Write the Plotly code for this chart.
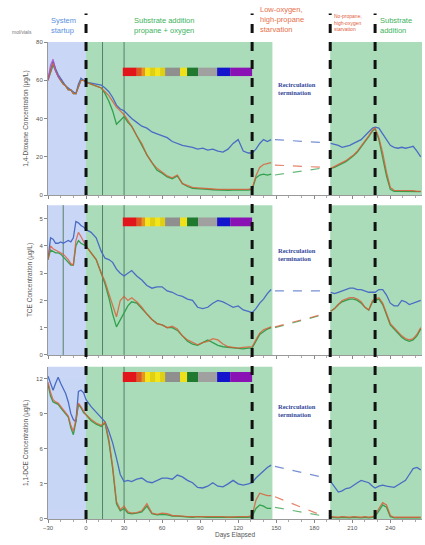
import plotly.graph_objects as go

# ---------------- data ----------------
DAYS_A = [-30, -28, -26, -24, -22, -20, -18, -16, -14, -12, -10, -8, -6, -4, -2,
          0, 4, 8, 12, 15, 18, 21, 24, 27, 30, 33, 36,
          40, 44, 48, 52, 56, 60, 64, 68, 72, 76, 80, 84, 88, 92, 96, 100, 104, 108, 112, 116, 120, 124, 128,
          131, 134, 137, 140, 143, 146]
DAYS_B = [193, 196, 199, 202, 205, 208, 211, 214, 217, 220, 223, 226,
          228, 231, 234, 237, 240, 243, 246, 249, 252, 255, 258, 261, 264]
GAP_DAYS = [149, 185]
PURPLE_DAYS = [-30, -28, -26, -24, -22, -20]

# 1,4-Dioxane
DIOX_PURPLE = [60, 68, 71, 65, 62, 60]
DIOX_BLUE_A = [61, 66, 70, 66, 63, 61, 59, 57, 56, 55, 54, 53, 58, 61, 60,
               59, 58.5, 58, 57.5, 56, 54, 51, 47, 45, 44, 42, 40,
               38, 36, 35, 33, 32, 31, 30, 28, 27, 26, 25.5, 25, 24, 24.5, 23.5, 24, 23, 22.5, 24, 27, 29, 23, 22,
               22, 24, 27, 29, 28, 29]
DIOX_RED_A = [60, 65, 69, 65, 62, 60, 58, 57, 55, 55, 53, 53, 57, 60, 60,
              59, 58, 57, 56, 54, 52, 49, 46, 44, 42, 39, 36,
              31, 27, 21, 17, 14, 12, 10, 9, 10.5, 6, 5, 4, 3.8, 3.5, 3.5, 3.2, 3, 3, 2.8, 3, 2.8, 3, 3,
              3.5, 10, 14.5, 16, 16.5, 17]
DIOX_GREEN_A = [60, 64, 68, 65, 62, 60, 58, 57, 55, 55, 53, 53, 57, 60, 60,
                59, 58, 57, 56, 53, 49, 44, 37, 39, 41, 38, 36,
                31, 26, 21, 17, 13, 11.5, 9.5, 8.5, 10, 6, 4.5, 3.5, 3.2, 3, 3, 2.8, 2.6, 2.5, 2.5, 2.6, 2.5, 2.6, 2.6,
                3, 9, 10.5, 11, 10.5, 11]
DIOX_BLUE_B = [27, 26.5, 26, 25, 25.5, 26, 27, 28, 29, 31, 33, 35, 35.5, 35, 32, 29, 26, 25, 24.5, 25, 24.5, 25, 25.5, 23, 20]
DIOX_RED_B = [14, 15, 16, 17, 18, 19.5, 21, 23, 25.5, 28, 31, 34, 35, 30, 22, 12, 4, 2.5, 2.5, 2.3, 2.5, 2.2, 2.3, 2, 2]
DIOX_GREEN_B = [14, 14.5, 15.5, 16.5, 17.5, 19, 20.5, 22.5, 25, 27.5, 30.5, 33.5, 34.5, 29, 20, 10, 3, 2, 2, 2, 2, 2, 2, 1.8, 1.8]
DIOX_BLUE_GAP = [29, 27.5]
DIOX_RED_GAP = [15.7, 14.6]
DIOX_GREEN_GAP = [10.5, 14]

# TCE
TCE_BLUE_A = [3.5, 4.3, 4.25, 4.1, 4.1, 4.15, 4.1, 4.15, 4.2, 4.15, 4.3, 4.9, 4.85, 4.75, 4.7,
              4.6, 4.5, 4.3, 3.8, 3.55, 3.5, 3.4, 3.15, 3.0, 2.9, 3.0, 3.1,
              2.9, 2.75, 2.55, 2.45, 2.5, 2.5, 2.35, 2.3, 2.2, 2.15, 2.05, 2.0, 1.75, 1.7, 1.75, 1.9, 2.0, 1.95, 1.85, 1.75, 1.8, 1.65, 1.6,
              1.55, 1.7, 1.9, 2.05, 2.25, 2.4]
TCE_RED_A = [3.5, 4.0, 3.9, 3.85, 3.8, 3.75, 3.7, 3.6, 3.5, 3.35, 3.3, 4.2, 4.5, 4.35, 4.15,
             4.0, 3.75, 3.5, 3.0, 2.7, 2.25, 1.8, 1.4, 2.0, 2.15, 2.0, 2.1,
             1.95, 1.75, 1.5, 1.3, 1.15, 1.1, 1.0, 1.05, 0.95, 0.7, 0.55, 0.45, 0.37, 0.45, 0.5, 0.6, 0.55, 0.4, 0.3, 0.28, 0.25, 0.28, 0.3,
             0.3, 0.55, 0.8, 0.92, 0.98, 1.03]
TCE_GREEN_A = [3.5, 3.85, 3.8, 3.75, 3.75, 3.7, 3.6, 3.5, 3.4, 3.3, 3.3, 4.0, 4.2, 4.1, 4.05,
               4.0, 3.75, 3.5, 3.0, 2.6, 2.1, 1.5, 1.03, 1.3, 1.55, 1.8, 1.95,
               1.9, 1.7, 1.5, 1.3, 1.15, 1.1, 1.0, 1.0, 0.9, 0.7, 0.5, 0.4, 0.35, 0.45, 0.55, 0.45, 0.35, 0.3, 0.28, 0.25, 0.22, 0.22, 0.25,
               0.25, 0.5, 0.75, 0.85, 0.95, 1.0]
TCE_BLUE_B = [2.3, 2.25, 2.3, 2.35, 2.4, 2.45, 2.45, 2.4, 2.4, 2.35, 2.3, 2.3, 2.3, 2.4, 2.4, 2.2, 1.9, 1.8, 1.8, 2.0, 1.95, 1.85, 1.9, 1.95, 2.0]
TCE_RED_B = [1.6, 1.7, 1.85, 2.0, 2.05, 2.1, 2.1, 2.05, 1.95, 1.75, 1.65, 2.0, 2.05, 2.1, 1.9, 1.5, 1.15, 1.0, 0.85, 0.7, 0.6, 0.55, 0.6, 0.75, 1.0]
TCE_GREEN_B = [1.6, 1.7, 1.85, 1.95, 2.0, 2.05, 2.05, 2.0, 1.9, 1.75, 1.65, 1.95, 2.0, 2.05, 1.85, 1.45, 1.1, 0.95, 0.8, 0.65, 0.55, 0.5, 0.55, 0.7, 0.95]
TCE_BLUE_GAP = [2.35, 2.35]
TCE_RED_GAP = [1.03, 1.47]
TCE_GREEN_GAP = [1.0, 1.45]

# 1,1-DCE
DCE_BLUE_A = [12.2, 11.5, 11.0, 11.6, 12.1, 11.6, 11.1, 10.7, 10.0, 9.0, 8.5, 8.3, 10.9, 11.0, 10.8,
              10.2, 9.6, 9.1, 8.6, 8.3, 7.5, 6.5, 5.2, 3.8, 3.2, 3.3, 3.2,
              3.4, 3.5, 3.2, 3.1, 3.3, 3.5, 3.5, 3.4, 3.75, 3.6, 3.3, 3.1, 2.7, 2.65, 2.8, 3.1, 2.8, 2.75, 3.0, 3.3, 3.0, 2.9, 3.0,
              3.1, 3.5, 3.8, 4.1, 4.4, 4.6]
DCE_RED_A = [11.7, 10.8, 10.2, 10.0, 9.9, 9.6, 9.3, 9.1, 8.8, 8.0, 7.5, 8.5, 9.9, 9.6, 9.2,
             8.9, 8.5, 8.2, 8.0, 8.3, 6.8, 4.5, 1.5, 0.8, 1.1, 0.6, 0.5,
             0.55, 0.7, 1.3, 0.5, 0.4, 0.5, 0.45, 0.3, 0.3, 0.25, 0.2, 0.2, 0.25, 0.2, 0.2, 0.2, 0.2, 0.2, 0.15, 0.2, 0.2, 0.2, 0.2,
             0.3, 1.6, 2.2, 2.1, 2.0, 2.0]
DCE_GREEN_A = [11.5, 10.5, 10.0, 9.9, 9.8, 9.5, 9.2, 9.0, 8.7, 7.8, 7.2, 8.3, 9.8, 9.5, 9.1,
               8.9, 8.4, 8.1, 7.9, 8.2, 6.6, 4.3, 1.3, 0.7, 0.9, 0.5, 0.45,
               0.5, 0.6, 1.1, 0.45, 0.35, 0.4, 0.35, 0.25, 0.25, 0.2, 0.15, 0.15, 0.2, 0.15, 0.15, 0.15, 0.15, 0.15, 0.1, 0.15, 0.15, 0.15, 0.15,
               0.2, 0.9, 1.2, 1.1, 0.9, 0.9]
DCE_BLUE_B = [3.2, 2.8, 2.3, 2.4, 2.6, 2.65, 2.9, 3.1, 3.3, 3.2, 3.1, 2.8, 2.65, 2.8, 2.9, 2.8, 2.75, 2.7, 2.9, 3.1, 3.3, 3.8, 4.3, 4.4, 4.2]
DCE_RED_B = [0.2, 0.15, 0.15, 0.2, 0.15, 0.15, 0.2, 0.15, 0.15, 0.2, 0.15, 0.2, 0.3, 0.9, 1.4, 1.2, 0.3, 0.15, 0.15, 0.2, 0.15, 0.15, 0.2, 0.15, 0.15]
DCE_GREEN_B = [0.15, 0.1, 0.1, 0.15, 0.1, 0.1, 0.15, 0.1, 0.1, 0.15, 0.1, 0.15, 0.2, 0.7, 1.2, 1.0, 0.2, 0.1, 0.1, 0.15, 0.1, 0.1, 0.15, 0.1, 0.1]
DCE_BLUE_GAP = [4.5, 3.6]
DCE_RED_GAP = [1.9, 0.35]
DCE_GREEN_GAP = [1.0, 0.3]

# phases / events
PHASE_LINES = [0, 131, 192.6, 228]
THIN_LINES = [13, 30]
THIN_LINES_TCE = [-18]
STARTUP = [-30, 0]
GREEN_SPANS = [[0, 147], [192.6, 265]]

# substrate colour bar
BAR_EDGES = [29, 40, 44, 46.6, 50.5, 54.5, 58.5, 62.4, 74.2, 79.7, 88.4, 103.4, 113.7, 131]
BAR_COLORS = ["#e2151b", "#e0581e", "#e8951e", "#f4e51a", "#e2cf10", "#f4e51a", "#e2cf10",
              "#8f8f8f", "#f0e01a", "#1f7a2f", "#a0a0a0", "#1414cc", "#8a12b4"]
BAR_Y = {"y": [62.2, 66.6], "y2": [4.72, 5.05], "y3": [11.7, 12.55]}

PANEL_TITLES = ["1,4-Dioxane Concentration (μg/L)", "TCE Concentration (μg/L)", "1,1-DCE Concentration (μg/L)"]
X_TICKS = [-30, 0, 30, 60, 90, 120, 150, 180, 210, 240]

for arr in [DIOX_BLUE_A, DIOX_RED_A, DIOX_GREEN_A, TCE_BLUE_A, TCE_RED_A, TCE_GREEN_A,
            DCE_BLUE_A, DCE_RED_A, DCE_GREEN_A]:
    assert len(arr) == len(DAYS_A), len(arr)
for arr in [DIOX_BLUE_B, DIOX_RED_B, DIOX_GREEN_B, TCE_BLUE_B, TCE_RED_B, TCE_GREEN_B,
            DCE_BLUE_B, DCE_RED_B, DCE_GREEN_B]:
    assert len(arr) == len(DAYS_B), len(arr)

# ---------------- figure ----------------
BLUE = "#4a6cc4"
RED = "#de5a36"
GREEN = "#33a04e"

fig = go.Figure()

panels = [
    ("x", "y", (DIOX_BLUE_A, DIOX_RED_A, DIOX_GREEN_A), (DIOX_BLUE_B, DIOX_RED_B, DIOX_GREEN_B),
     (DIOX_BLUE_GAP, DIOX_RED_GAP, DIOX_GREEN_GAP)),
    ("x2", "y2", (TCE_BLUE_A, TCE_RED_A, TCE_GREEN_A), (TCE_BLUE_B, TCE_RED_B, TCE_GREEN_B),
     (TCE_BLUE_GAP, TCE_RED_GAP, TCE_GREEN_GAP)),
    ("x3", "y3", (DCE_BLUE_A, DCE_RED_A, DCE_GREEN_A), (DCE_BLUE_B, DCE_RED_B, DCE_GREEN_B),
     (DCE_BLUE_GAP, DCE_RED_GAP, DCE_GREEN_GAP)),
]

for xa, ya, A, B, G in panels:
    order = [(0, BLUE, 1.0), (2, GREEN, 1.0), (1, RED, 0.8)]
    for idx, col, op in order:
        fig.add_trace(go.Scatter(x=DAYS_A, y=A[idx], xaxis=xa, yaxis=ya, mode="lines",
                                 line=dict(color=col, width=1.3), opacity=op, showlegend=False))
        fig.add_trace(go.Scatter(x=DAYS_B, y=B[idx], xaxis=xa, yaxis=ya, mode="lines",
                                 line=dict(color=col, width=1.3), opacity=op, showlegend=False))
        fig.add_trace(go.Scatter(x=GAP_DAYS, y=G[idx], xaxis=xa, yaxis=ya, mode="lines",
                                 line=dict(color=col, width=1.2, dash="dash"), opacity=0.75, showlegend=False))

fig.add_trace(go.Scatter(x=PURPLE_DAYS, y=DIOX_PURPLE, xaxis="x", yaxis="y", mode="lines",
                         line=dict(color="#b050c0", width=1.2), opacity=0.8, showlegend=False))

shapes = []
for xa, ya in [("x", "y"), ("x2", "y2"), ("x3", "y3")]:
    shapes.append(dict(type="rect", xref=xa, yref=ya + " domain", x0=STARTUP[0], x1=STARTUP[1], y0=0, y1=1,
                       fillcolor="#c9d6f6", line=dict(width=0), layer="below"))
    for s in GREEN_SPANS:
        shapes.append(dict(type="rect", xref=xa, yref=ya + " domain", x0=s[0], x1=s[1], y0=0, y1=1,
                           fillcolor="#aadcb9", line=dict(width=0), layer="below"))
    thin = THIN_LINES + (THIN_LINES_TCE if ya == "y2" else [])
    for d in thin:
        shapes.append(dict(type="line", xref=xa, yref=ya + " domain", x0=d, x1=d, y0=0, y1=1,
                           line=dict(color="#56806a", width=1), layer="below"))
    for i, c in enumerate(BAR_COLORS):
        shapes.append(dict(type="rect", xref=xa, yref=ya, x0=BAR_EDGES[i], x1=BAR_EDGES[i + 1],
                           y0=BAR_Y[ya][0], y1=BAR_Y[ya][1], fillcolor=c, line=dict(width=0)))

for d in PHASE_LINES:
    shapes.append(dict(type="line", xref="x3", yref="paper", x0=d, x1=d, y0=0, y1=1.06,
                       line=dict(color="#111111", width=3, dash="dash")))

fig.update_layout(shapes=shapes)

tickfont = dict(size=6, color="#555555", family="Arial, Liberation Sans")
titlefont = dict(size=6.5, color="#555555", family="Arial, Liberation Sans")
domains = [[0.679, 1.0], [0.344, 0.658], [0.0, 0.319]]
yranges = [[0, 80], [0, 5.5], [0, 13]]
yticks = [[0, 20, 40, 60, 80], [0, 1, 2, 3, 4, 5], [0, 3, 6, 9, 12]]

layout = dict(
    width=425, height=545,
    margin=dict(l=48, r=3, t=42, b=26, autoexpand=False),
    paper_bgcolor="white", plot_bgcolor="white",
    showlegend=False,
)
for i in range(3):
    sfx = "" if i == 0 else str(i + 1)
    layout["xaxis" + sfx] = dict(
        range=[-30, 265], domain=[0, 1], anchor="y" + sfx, tickvals=X_TICKS,
        showticklabels=(i == 2), ticks="outside", ticklen=3, tickcolor="#888",
        minor=dict(ticks="outside", ticklen=2, dtick=10, tick0=-30, tickcolor="#aaa"),
        showline=True, linecolor="#999", linewidth=1, showgrid=False, zeroline=False,
        tickfont=tickfont, automargin=False,
        title=dict(text="Days Elapsed", font=titlefont, standoff=2) if i == 2 else None,
    )
    layout["yaxis" + sfx] = dict(
        range=yranges[i], domain=domains[i], anchor="x" + sfx, tickvals=yticks[i],
        ticks="outside", ticklen=3, tickcolor="#888",
        showline=True, linecolor="#999", linewidth=1, showgrid=False, zeroline=False,
        tickfont=tickfont, automargin=False,
        title=dict(text=PANEL_TITLES[i], font=titlefont, standoff=6),
    )
fig.update_layout(**layout)

ann = []
def A(text, x, y, color, size, xref="x3", yref="paper", xanchor="left", align="left", family="Arial, Liberation Sans"):
    ann.append(dict(text=text, x=x, y=y, xref=xref, yref=yref, xanchor=xanchor, yanchor="middle",
                    align=align, showarrow=False, font=dict(size=size, color=color, family=family)))

A("System<br>startup", -29, 1.034, "#5a90e0", 7.5)
A("Substrate addition<br>propane + oxygen", 61.5, 1.034, "#3db35e", 7.5, xanchor="center", align="left")
A("Low-oxygen,<br>high-propane<br>starvation", 135.5, 1.047, "#e8704a", 7.5)
A("No-propane,<br>high-oxygen<br>starvation", 194, 1.041, "#e0603a", 5)
A("Substrate<br>addition", 230.5, 1.034, "#3db35e", 7.5)
A("mol/vials", -0.07, 1.02, "#777777", 5, xref="paper", xanchor="center")

for xa, ya, yv in [("x", "y", 55.5), ("x2", "y2", 3.68), ("x3", "y3", 9.3)]:
    A("<b>Recirculation<br>termination</b>", 166.5, yv, "#34499c", 6.5, xref=xa, yref=ya,
      xanchor="center", align="left", family="Liberation Serif, serif")

fig.update_layout(annotations=ann)
fig.write_html("out.html", config={"displayModeBar": False},
               post_script="document.body.style.margin='0';document.body.style.overflow='hidden';")
